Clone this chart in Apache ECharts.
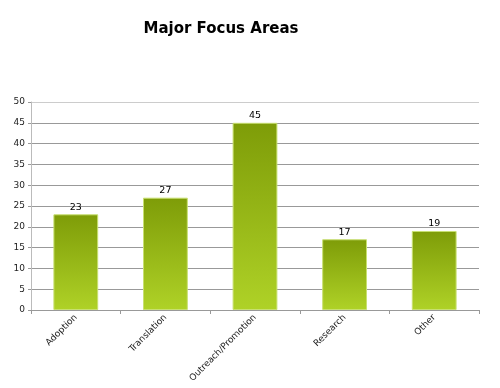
<!DOCTYPE html>
<html><head><meta charset="utf-8">
<script src="https://cdn.jsdelivr.net/npm/echarts@6/dist/echarts.min.js"></script>
<style>html,body{margin:0;padding:0;background:#fff}#c{width:500px;height:388px}</style>
</head><body><div id="c"></div>
<script>
const titleText = "Major Focus Areas";
const categories = ["Adoption", "Translation", "Outreach/Promotion", "Research", "Other"];
const values = [23, 27, 45, 17, 19];
const yTicks = { min: 0, max: 50, interval: 5 };

const chart = echarts.init(document.getElementById('c'), null, {renderer: 'canvas'});
chart.setOption({
  animation: false,
  backgroundColor: '#fff',
  title: {
    text: titleText, left: 216, top: 17, textAlign: 'center',
    textStyle: {fontFamily: 'DejaVu Sans', fontWeight: 'bold', fontSize: 15, color: '#000'}
  },
  grid: {left: 31, right: 21, top: 102, bottom: 78},
  xAxis: {
    type: 'category', data: categories,
    axisLine: {lineStyle: {color: '#999'}},
    axisTick: {show: true, length: 4, lineStyle: {color: '#999'}},
    axisLabel: {rotate: 45, fontFamily: 'DejaVu Sans', fontSize: 9, color: '#222', margin: 6},
    splitLine: {show: false}
  },
  yAxis: {
    type: 'value', min: yTicks.min, max: yTicks.max, interval: yTicks.interval,
    axisLine: {show: true, lineStyle: {color: '#bbb'}},
    axisTick: {show: true, length: 3, lineStyle: {color: '#999'}},
    axisLabel: {fontFamily: 'DejaVu Sans', fontSize: 9, color: '#222', margin: 6},
    splitLine: {show: true, lineStyle: {color: ['#999','#999','#999','#999','#999','#999','#999','#999','#999','#999','#ccc']}}
  },
  series: [{
    type: 'bar', data: values, barWidth: '50%',
    itemStyle: {
      color: new echarts.graphic.LinearGradient(0, 0, 0, 1, [
        {offset: 0, color: '#7e9c08'}, {offset: 1, color: '#afd227'}
      ]),
      borderColor: '#c8e070', borderWidth: 1
    },
    label: {show: true, position: 'top', distance: 2, fontFamily: 'DejaVu Sans', fontSize: 9.5, color: '#000'}
  }]
});
</script></body></html>
